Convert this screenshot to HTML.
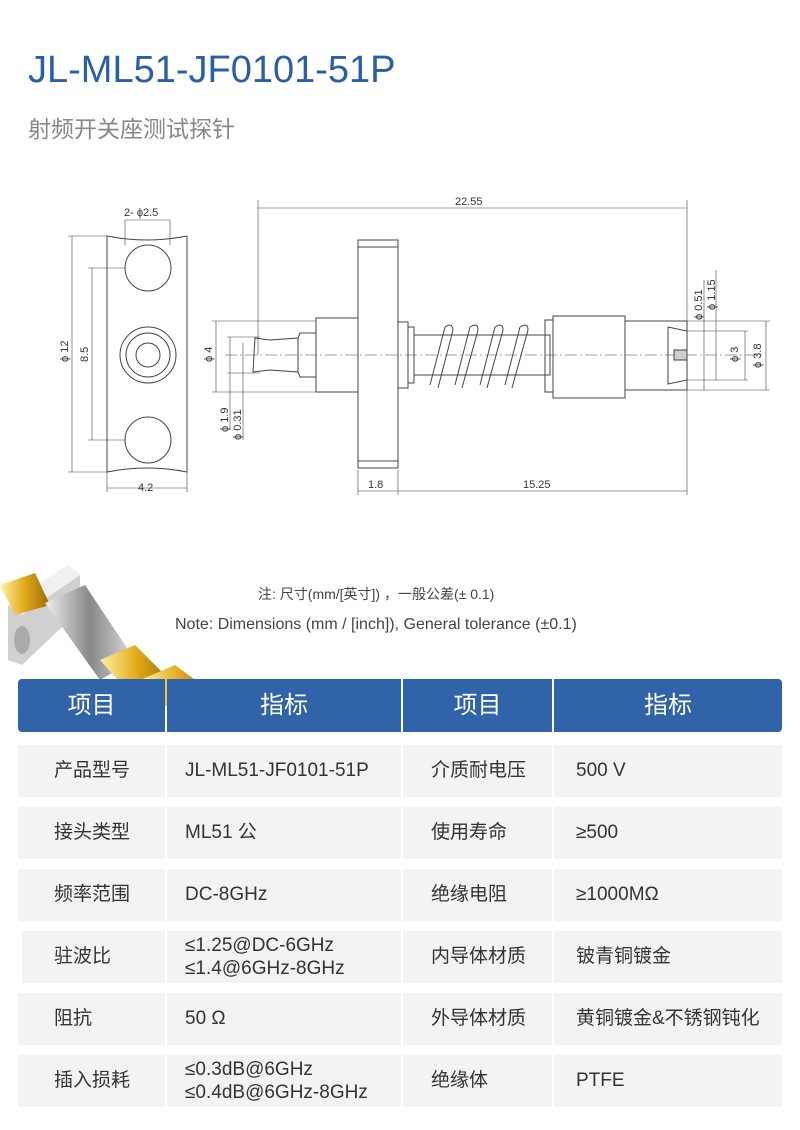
<!DOCTYPE html>
<html><head><meta charset="utf-8"><style>
body{margin:0;width:800px;height:1130px;background:#fff;font-family:"Liberation Sans","Noto Sans CJK SC",sans-serif;position:relative;overflow:hidden}
.t{position:absolute;white-space:nowrap}
.row{position:absolute;left:18px;width:764px;height:52px}
.c{position:absolute;top:0;height:52px;background:#f3f3f3;font-size:19px;color:#333;line-height:52px;box-sizing:border-box}
.c.two{line-height:23px;padding-top:3px}
.hd .c{background:#3163a8;color:#fff;font-size:24px;text-align:center;height:53px;line-height:53px}
</style></head><body>
<div class="t" style="left:28px;top:49px;font-size:38px;color:#2b5ea8">JL-ML51-JF0101-51P</div>
<div class="t" style="left:28px;top:110px;font-size:23px;color:#888">射频开关座测试探针</div>
<svg width="800" height="560" style="position:absolute;left:0;top:0" font-family="Liberation Sans" font-size="11" fill="none" stroke="#444" stroke-width="1">
<path d="M107 236 Q147 244 187 236 L187 472 Q147 464 107 472 Z"/>
<circle cx="148" cy="268" r="23"/><circle cx="148" cy="440" r="23"/>
<circle cx="148" cy="355" r="28"/><circle cx="148" cy="355" r="22"/><circle cx="148" cy="355" r="12"/>
<line x1="68" y1="236" x2="107" y2="236" stroke-width=".6"/><line x1="68" y1="472" x2="107" y2="472" stroke-width=".6"/>
<line x1="72" y1="236" x2="72" y2="472" stroke-width=".6"/>
<line x1="88" y1="268" x2="125" y2="268" stroke-width=".6"/><line x1="88" y1="440" x2="125" y2="440" stroke-width=".6"/>
<line x1="92" y1="268" x2="92" y2="440" stroke-width=".6"/>
<line x1="107" y1="472" x2="107" y2="492" stroke-width=".6"/><line x1="187" y1="472" x2="187" y2="492" stroke-width=".6"/>
<line x1="107" y1="488" x2="187" y2="488" stroke-width=".6"/>
<line x1="125" y1="220" x2="170" y2="220" stroke-width=".6"/><line x1="125" y1="220" x2="125" y2="245" stroke-width=".6"/><line x1="170" y1="220" x2="170" y2="245" stroke-width=".6"/>
<g fill="#333" stroke="none">
<text x="124" y="216">2- ϕ2.5</text><text x="138" y="491">4.2</text>
<text transform="translate(68 362) rotate(-90)">ϕ 12</text><text transform="translate(88 362) rotate(-90)">8.5</text>
</g>
<line x1="225" y1="355" x2="765" y2="355" stroke-width=".6" stroke-dasharray="12 3 2 3"/>
<rect x="358" y="240" width="40" height="228"/>
<line x1="358" y1="247" x2="398" y2="247"/><line x1="358" y1="461" x2="398" y2="461"/>
<rect x="316" y="318" width="42" height="74"/>
<path d="M316 333 L300 333 L298 338 L270 340 L255 338 L253 372 L270 370 L298 372 L300 377 L316 377"/>
<line x1="298" y1="338" x2="298" y2="372"/>
<rect x="398" y="322" width="10" height="66"/><rect x="408" y="327" width="6" height="56"/>
<rect x="414" y="335" width="136" height="40"/>
<path d="M430 385 L445 327 M445 327 Q452 322 453 330 L438 388 M455 385 L470 327 M470 327 Q478 322 478 330 L462 388 M480 385 L495 327 M495 327 Q503 322 503 330 L487 388 M505 385 L520 327 M520 327 Q528 322 528 330 L512 388"/>
<rect x="545" y="320" width="8" height="72"/>
<rect x="553" y="316" width="72" height="82"/>
<path d="M625 321 L687 321 L687 390 L625 390"/>
<path d="M668 327 L687 331 L687 380 L668 384 Z"/>
<rect x="674" y="350" width="13" height="10" fill="#ccc"/>
<line x1="258" y1="200" x2="258" y2="355" stroke-width=".6"/><line x1="687" y1="200" x2="687" y2="495" stroke-width=".6"/>
<line x1="258" y1="208" x2="687" y2="208" stroke-width=".6"/>
<line x1="358" y1="470" x2="358" y2="495" stroke-width=".6"/><line x1="398" y1="470" x2="398" y2="495" stroke-width=".6"/>
<line x1="358" y1="491" x2="687" y2="491" stroke-width=".6"/>
<line x1="212" y1="321" x2="316" y2="321" stroke-width=".6"/><line x1="212" y1="392" x2="316" y2="392" stroke-width=".6"/>
<line x1="216" y1="321" x2="216" y2="392" stroke-width=".6"/>
<line x1="227" y1="337" x2="260" y2="337" stroke-width=".6"/><line x1="227" y1="373" x2="260" y2="373" stroke-width=".6"/>
<line x1="230" y1="337" x2="230" y2="430" stroke-width=".6"/><line x1="243" y1="343" x2="243" y2="440" stroke-width=".6"/>
<line x1="687" y1="321" x2="770" y2="321" stroke-width=".6"/><line x1="687" y1="390" x2="770" y2="390" stroke-width=".6"/>
<line x1="766" y1="321" x2="766" y2="390" stroke-width=".6"/>
<line x1="687" y1="331" x2="748" y2="331" stroke-width=".6"/><line x1="687" y1="380" x2="748" y2="380" stroke-width=".6"/>
<line x1="745" y1="331" x2="745" y2="380" stroke-width=".6"/>
<line x1="704" y1="280" x2="704" y2="390" stroke-width=".6"/><line x1="716" y1="270" x2="716" y2="380" stroke-width=".6"/>
<g fill="#333" stroke="none">
<text x="455" y="205">22.55</text><text x="368" y="488">1.8</text><text x="523" y="488">15.25</text>
<text transform="translate(212 362) rotate(-90)">ϕ 4</text>
<text transform="translate(228 432) rotate(-90)">ϕ 1.9</text><text transform="translate(241 440) rotate(-90)">ϕ 0.31</text>
<text transform="translate(702 320) rotate(-90)">ϕ 0.51</text><text transform="translate(715 310) rotate(-90)">ϕ 1.15</text>
<text transform="translate(738 362) rotate(-90)">ϕ 3</text><text transform="translate(761 368) rotate(-90)">ϕ 3.8</text>
</g>
</svg>
<svg width="240" height="170" style="position:absolute;left:0;top:565px">
<defs><linearGradient id="g" x1="0" y1="0" x2="1" y2="0"><stop offset="0" stop-color="#fff2a0"/><stop offset=".5" stop-color="#e0a818"/><stop offset="1" stop-color="#9a6a00"/></linearGradient>
<linearGradient id="s" x1="0" y1="0" x2="1" y2="0"><stop offset="0" stop-color="#eee"/><stop offset=".5" stop-color="#888"/><stop offset="1" stop-color="#ddd"/></linearGradient></defs>
<polygon points="8,40 68,0 80,10 80,45 22,100 8,95" fill="#d0d0d0"/>
<polygon points="8,40 68,0 80,10 22,50" fill="#f0f0f0"/>
<ellipse cx="22" cy="75" rx="8" ry="14" fill="#aaa"/>
<polygon points="0,20 35,8 50,40 15,50" fill="url(#g)"/>
<polygon points="45,38 85,20 135,95 100,115" fill="url(#s)"/>
<polygon points="100,95 135,80 175,120 140,140" fill="url(#g)"/>
<polygon points="140,115 175,100 222,135 185,160" fill="url(#g)"/>
<ellipse cx="210" cy="145" rx="12" ry="16" fill="#b77a00" transform="rotate(-40 210 145)"/>
</svg>
<div class="t" style="left:258px;top:584px;font-size:14px;color:#444">注: 尺寸(mm/[英寸]) ，一般公差(± 0.1)</div>
<div class="t" style="left:175px;top:616px;font-size:16px;color:#444">Note: Dimensions (mm / [inch]), General tolerance (±0.1)</div>
<div class="row hd" style="top:679px"><div class="c" style="left:0;width:147px;border-radius:4px 0 0 4px">项目</div><div class="c" style="left:149px;width:234px">指标</div><div class="c" style="left:385px;width:149px">项目</div><div class="c" style="left:536px;width:228px;border-radius:0 4px 4px 0">指标</div></div>
<div class="row" style="top:745px"><div class="c" style="left:0;width:147px;padding-left:36px">产品型号</div><div class="c" style="left:149px;width:234px;padding-left:18px">JL-ML51-JF0101-51P</div><div class="c" style="left:385px;width:149px;padding-left:28px">介质耐电压</div><div class="c" style="left:536px;width:228px;padding-left:22px">500 V</div></div>
<div class="row" style="top:807px"><div class="c" style="left:0;width:147px;padding-left:36px">接头类型</div><div class="c" style="left:149px;width:234px;padding-left:18px">ML51 公</div><div class="c" style="left:385px;width:149px;padding-left:28px">使用寿命</div><div class="c" style="left:536px;width:228px;padding-left:22px">≥500</div></div>
<div class="row" style="top:869px"><div class="c" style="left:0;width:147px;padding-left:36px">频率范围</div><div class="c" style="left:149px;width:234px;padding-left:18px">DC-8GHz</div><div class="c" style="left:385px;width:149px;padding-left:28px">绝缘电阻</div><div class="c" style="left:536px;width:228px;padding-left:22px">≥1000MΩ</div></div>
<div class="row" style="top:931px;left:22px;width:760px"><div class="c" style="left:0;width:143px;padding-left:32px">驻波比</div><div class="c two" style="left:145px;width:234px;padding-left:18px">≤1.25@DC-6GHz<br>≤1.4@6GHz-8GHz</div><div class="c" style="left:381px;width:149px;padding-left:28px">内导体材质</div><div class="c" style="left:532px;width:228px;padding-left:22px">铍青铜镀金</div></div>
<div class="row" style="top:993px"><div class="c" style="left:0;width:147px;padding-left:36px">阻抗</div><div class="c" style="left:149px;width:234px;padding-left:18px">50 Ω</div><div class="c" style="left:385px;width:149px;padding-left:28px">外导体材质</div><div class="c" style="left:536px;width:228px;padding-left:22px">黄铜镀金&amp;不锈钢钝化</div></div>
<div class="row" style="top:1055px"><div class="c" style="left:0;width:147px;padding-left:36px">插入损耗</div><div class="c two" style="left:149px;width:234px;padding-left:18px">≤0.3dB@6GHz<br>≤0.4dB@6GHz-8GHz</div><div class="c" style="left:385px;width:149px;padding-left:28px">绝缘体</div><div class="c" style="left:536px;width:228px;padding-left:22px">PTFE</div></div>
</body></html>
